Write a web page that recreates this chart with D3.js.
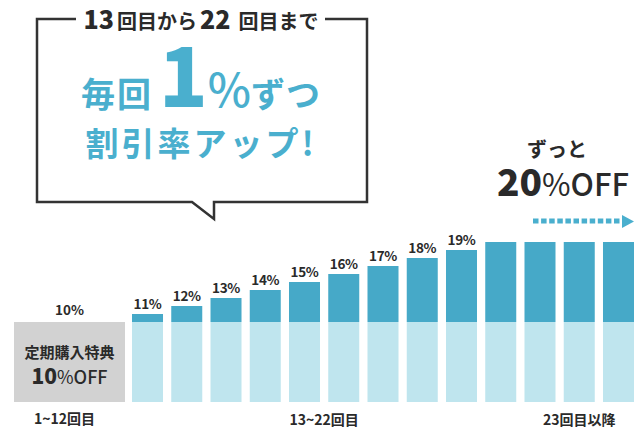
<!DOCTYPE html>
<html><head><meta charset="utf-8">
<script src="https://cdn.jsdelivr.net/npm/d3@7/dist/d3.min.js"></script>
<style>
html,body{margin:0;padding:0;background:#fff;}
svg{display:block;font-family:"Noto Sans CJK JP","Noto Sans",sans-serif;}
</style></head><body>
<svg id="c" width="644" height="442"></svg>
<script>
// ---- data ----
const baseLabel = "1~12回目";
const baseValue = 10;
const rounds = [13,14,15,16,17,18,19,20,21,22,23,24,25];
const values = [11,12,13,14,15,16,17,18,19,20,20,20,20];
const valueLabels = ["11%","12%","13%","14%","15%","16%","17%","18%","19%","","","",""];
const groups = [
  {label:"13~22回目", from:13, to:22},
  {label:"23回目以降", from:23, to:25}
];

const svg = d3.select("#c");
const C = {dark:"#46a9c8", light:"#bfe5ee", gray:"#d2d2d2", blue:"#4aafce", text:"#2a2a2a", line:"#333"};

const y = d3.scaleLinear().domain([0,20]).range([402,242]);
const x = d3.scaleBand().domain(rounds).range([132,634]).paddingInner(0.21).paddingOuter(0);

// gray base box (1~12)
const bx0 = 14, bx1 = 125;
svg.append("rect").attr("x",bx0).attr("y",y(baseValue)).attr("width",bx1-bx0)
  .attr("height",y(0)-y(baseValue)).attr("fill",C.gray);
svg.append("text").attr("x",(bx0+bx1)/2).attr("y",y(baseValue)-7).attr("text-anchor","middle")
  .attr("font-size",13.5).attr("font-weight",700).attr("fill",C.text).text(baseValue+"%");
svg.append("text").attr("x",(bx0+bx1)/2).attr("y",358).attr("text-anchor","middle")
  .attr("font-size",15).attr("font-weight",700).attr("fill",C.text).text("定期購入特典");
const t10 = svg.append("text").attr("x",(bx0+bx1)/2).attr("y",384).attr("text-anchor","middle")
  .attr("font-weight",700).attr("fill",C.text);
t10.append("tspan").attr("font-size",21).attr("font-weight",900).text("10");
t10.append("tspan").attr("font-size",18).attr("font-weight",400).text("%");
t10.append("tspan").attr("font-size",18).attr("font-weight",500).text("OFF");
svg.append("text").attr("x",(bx0+bx1)/2-5).attr("y",424).attr("text-anchor","middle")
  .attr("font-size",14).attr("font-weight",700).attr("fill",C.text).text(baseLabel);

// bars
const g = svg.append("g");
g.selectAll("rect.l").data(rounds).join("rect").attr("class","l")
  .attr("x",d=>x(d)).attr("width",x.bandwidth())
  .attr("y",y(baseValue)).attr("height",y(0)-y(baseValue)).attr("fill",C.light);
g.selectAll("rect.d").data(rounds).join("rect").attr("class","d")
  .attr("x",d=>x(d)).attr("width",x.bandwidth())
  .attr("y",(d,i)=>y(values[i])).attr("height",(d,i)=>y(baseValue)-y(values[i])).attr("fill",C.dark);
g.selectAll("text.v").data(rounds).join("text").attr("class","v")
  .attr("x",d=>x(d)+x.bandwidth()/2).attr("y",(d,i)=>y(values[i])-5)
  .attr("text-anchor","middle").attr("font-size",13.5).attr("font-weight",700)
  .attr("letter-spacing",-0.3).attr("fill",C.text).text((d,i)=>valueLabels[i]);

// group labels
groups.forEach(gr=>{
  const cx = (x(gr.from) + x(gr.to) + x.bandwidth())/2;
  svg.append("text").attr("x",cx).attr("y",425).attr("text-anchor","middle")
    .attr("font-size",14).attr("font-weight",700).attr("fill",C.text).text(gr.label);
});

// speech bubble
const p = d3.path();
p.moveTo(76,19); p.lineTo(37,19); p.lineTo(37,202); p.lineTo(192,202);
p.lineTo(214,219); p.lineTo(214,202); p.lineTo(367,202); p.lineTo(367,19); p.lineTo(325,19);
svg.append("path").attr("d",p.toString()).attr("fill","none").attr("stroke",C.line)
  .attr("stroke-width",2.5).attr("stroke-linejoin","miter");

const tt = svg.append("text").attr("x",201).attr("y",29).attr("text-anchor","middle")
  .attr("font-weight",700).attr("fill",C.text);
tt.append("tspan").attr("font-size",25).attr("font-weight",900).text("13");
tt.append("tspan").attr("font-size",20).attr("dx",3).text("回目から");
tt.append("tspan").attr("font-size",25).attr("font-weight",900).attr("dx",3).text("22");
tt.append("tspan").attr("font-size",20).attr("dx",8).text("回目まで");

const m1 = svg.append("text").attr("x",201).attr("y",107).attr("text-anchor","middle")
  .attr("font-weight",700).attr("fill",C.blue);
m1.append("tspan").attr("font-size",34).attr("letter-spacing",2).text("毎回");
m1.append("tspan").attr("font-size",80).attr("font-weight",900).attr("dx",6).text("1");
m1.append("tspan").attr("font-size",46).attr("font-weight",500).text("%");
m1.append("tspan").attr("font-size",34).attr("letter-spacing",1).text("ずつ");
svg.append("text").attr("x",201).attr("y",156).attr("text-anchor","middle")
  .attr("font-size",33).attr("font-weight",700).attr("letter-spacing",3).attr("fill",C.blue)
  .text("割引率アップ!");

// right callout
svg.append("text").attr("x",557).attr("y",157).attr("text-anchor","middle")
  .attr("font-size",20).attr("font-weight",700).attr("fill",C.text).text("ずっと");
const r2 = svg.append("text").attr("x",563).attr("y",196).attr("text-anchor","middle")
  .attr("font-weight",700).attr("fill",C.text);
r2.append("tspan").attr("font-size",37).attr("font-weight",900).text("20");
r2.append("tspan").attr("font-size",31).attr("font-weight",400).text("%");
r2.append("tspan").attr("font-size",31).attr("font-weight",500).text("OFF");

// dotted arrow
svg.append("line").attr("x1",533).attr("x2",622).attr("y1",221).attr("y2",221)
  .attr("stroke",C.blue).attr("stroke-width",5).attr("stroke-dasharray","5.5,2.6");
svg.append("path").attr("d","M622,215L634,221.5L622,228Z").attr("fill",C.blue);
</script></body></html>
